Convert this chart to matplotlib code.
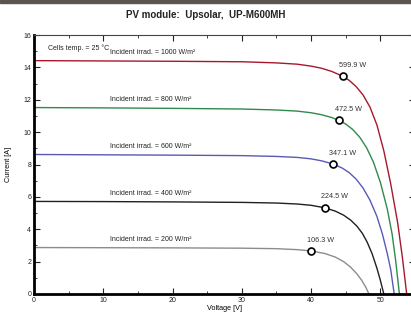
import numpy as np
import matplotlib
matplotlib.use('Agg')
import matplotlib.pyplot as plt
from matplotlib.patches import Rectangle

plt.rcParams['font.family'] = ['Liberation Sans', 'DejaVu Sans']

# I-V curves (voltage [V], current [A])
V1000 = [0, 10, 20, 30, 35, 38, 40, 41.5, 43, 44.6, 45.5, 46.5, 47.5, 48.5, 49.5, 50.5, 51.5, 52.5, 53.2, 53.8]
I1000 = [14.42, 14.40, 14.38, 14.35, 14.28, 14.2, 14.08, 13.95, 13.75, 13.45, 13.2, 12.82, 12.3, 11.55, 10.45, 8.85, 6.8, 4.4, 2.2, 0]
V800 = [0, 10, 20, 30, 35, 38, 40, 41.5, 43, 44.05, 45, 46, 47, 48, 49, 50, 51, 51.7, 52.2, 52.75]
I800 = [11.52, 11.50, 11.47, 11.43, 11.37, 11.30, 11.2, 11.08, 10.9, 10.73, 10.5, 10.17, 9.7, 9.05, 8.15, 6.9, 5.25, 3.7, 2.1, 0]
V600 = [0, 10, 20, 30, 35, 38, 40, 41.5, 43.2, 44.5, 45.5, 46.5, 47.5, 48.5, 49.5, 50.3, 51, 51.5, 52.0]
I600 = [8.62, 8.60, 8.58, 8.55, 8.50, 8.44, 8.35, 8.23, 8.03, 7.78, 7.5, 7.1, 6.55, 5.8, 4.8, 3.7, 2.5, 1.5, 0]
V400 = [0, 10, 20, 30, 35, 38, 40, 41.95, 43.5, 44.7, 45.7, 46.6, 47.4, 48.1, 48.8, 49.5, 50.0, 50.5]
I400 = [5.72, 5.71, 5.69, 5.66, 5.62, 5.56, 5.48, 5.33, 5.12, 4.87, 4.57, 4.2, 3.75, 3.2, 2.5, 1.6, 0.85, 0]
V200 = [0, 10, 20, 30, 35, 38, 40, 42, 43.5, 44.7, 45.7, 46.6, 47.3, 47.9, 48.35]
I200 = [2.87, 2.86, 2.85, 2.83, 2.8, 2.74, 2.66, 2.5, 2.28, 2.0, 1.66, 1.25, 0.85, 0.42, 0]

irrad = [1000, 800, 600, 400, 200]
mpp_v = [44.6, 44.05, 43.2, 41.95, 40.0]
mpp_p = [599.9, 472.5, 347.1, 224.5, 106.3]
colors = ['#a8182c', '#2f8a4e', '#5a5ab4', '#202020', '#8c8c8c']

curves = [(V1000, I1000), (V800, I800), (V600, I600), (V400, I400), (V200, I200)]

fig = plt.figure(figsize=(4.11, 3.15), dpi=100)
fig.patch.set_facecolor('white')
# dark window border at the top
fig.patches.append(Rectangle((0, 0.99), 1, 0.01, transform=fig.transFigure,
                             color='#5a5550', zorder=0))

ax = fig.add_axes([0.0827, 0.0667, 0.927, 0.822])

for k in range(len(curves)):
    v, i = curves[k]
    ax.plot(v, i, color=colors[k], lw=1.0, zorder=2)
    im = np.interp(mpp_v[k], v, i)
    ax.plot(mpp_v[k], im, 'o', ms=5, mfc='white', mec='black', mew=1.2, zorder=3)
    ax.text(mpp_v[k] + 1.4, im + 0.45, f'{mpp_p[k]:.1f} W', fontsize=5.2,
            ha='center', va='bottom', color='#333333')
    ax.text(11, i[0] + 0.3, f'Incident irrad. = {irrad[k]} W/m²', fontsize=5.0,
            ha='left', va='bottom', color='#222222')

ax.text(2.0, 15.2, 'Cells temp. = 25 °C', fontsize=5.0, ha='left', va='center', color='#222222')

ax.set_xlim(0, 55)
ax.set_ylim(0, 16)
ax.set_xticks(np.arange(0, 51, 10))
ax.set_xticks(np.arange(0, 56, 5), minor=True)
ax.set_yticks(np.arange(0, 17, 2))
ax.set_yticks(np.arange(0, 17, 1), minor=True)
ax.tick_params(which='both', direction='in', top=True, right=True,
               labelsize=5, colors='#222222', pad=2)
ax.tick_params(which='major', length=4, width=0.8)
ax.tick_params(which='minor', length=2, width=0.6)

ax.spines['left'].set_linewidth(2.0)
ax.spines['bottom'].set_linewidth(2.0)
ax.spines['top'].set_linewidth(0.8)
ax.spines['top'].set_color('#444444')
ax.spines['right'].set_linewidth(0.8)

ax.set_xlabel('Voltage [V]', fontsize=5.2, labelpad=1)
ax.set_ylabel('Current [A]', fontsize=5.2, labelpad=8)

fig.text(0.5, 0.952, 'PV module:  Upsolar,  UP-M600MH', ha='center', va='center',
         fontsize=7, fontweight='bold', color='#222222')

fig.savefig('out.png', dpi=100)
